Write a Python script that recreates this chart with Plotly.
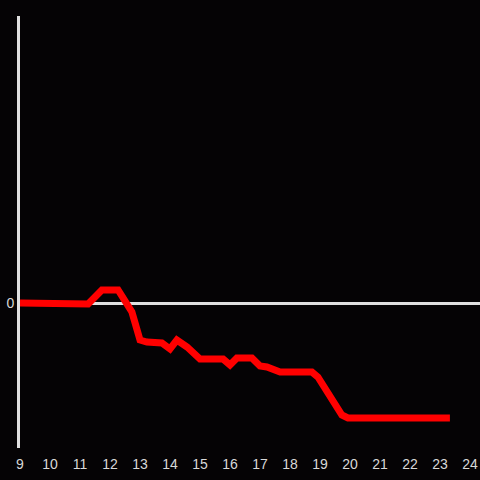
import plotly.graph_objects as go

hours = [9.0, 11.27, 11.73, 12.27, 12.73, 13.0, 13.23, 13.73, 14.0, 14.23, 14.57,
         15.0, 15.77, 16.0, 16.23, 16.73, 17.0, 17.23, 17.67, 18.73, 18.93, 19.27,
         19.73, 19.93, 23.33]
values = [0, -1, 13, 13, -9, -37, -39, -40, -46, -37, -44,
          -56, -56, -62, -55, -55, -63, -64, -69, -69, -74, -90,
          -112, -115, -115]

x_ticks = list(range(9, 25))

fig = go.Figure()
fig.add_trace(go.Scatter(
    x=hours, y=values, mode="lines",
    line=dict(color="#ff0000", width=7),
    hoverinfo="skip", showlegend=False,
))

bg = "#050305"
tickfont = dict(family="Liberation Sans, Arial, sans-serif", size=14, color="#d8d8d8")
fig.update_layout(
    width=480, height=480,
    margin=dict(l=20, r=0, t=16, b=32),
    paper_bgcolor=bg, plot_bgcolor=bg,
    font=tickfont,
    xaxis=dict(range=[9, 9 + 460 / 30], tickvals=x_ticks, ticktext=[str(t) for t in x_ticks],
               tickfont=tickfont,
               showgrid=False, zeroline=False, showline=False,
               ticks="outside", ticklen=3, tickcolor=bg),
    yaxis=dict(range=[-145, 287], tickvals=[0], ticktext=["0"], showgrid=False,
               tickfont=tickfont,
               zeroline=True, zerolinecolor="#e0e0e0", zerolinewidth=3,
               showline=True, linecolor="#e0e0e0", linewidth=3, ticks="", ticklen=0),
)

fig.write_html(
    "out.html",
    config={"displayModeBar": False},
    post_script="document.body.style.margin='0';document.body.style.overflow='hidden';document.body.style.background='#050305';",
)
